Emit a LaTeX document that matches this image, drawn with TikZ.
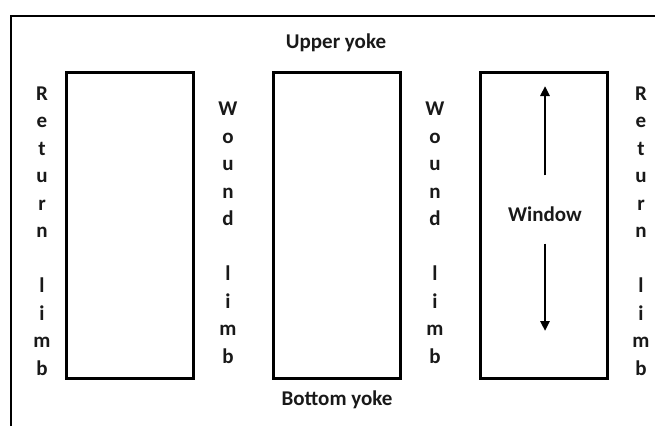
\documentclass[tikz,border=0pt]{standalone}
\usepackage{fontspec}
\setmainfont{Carlito}
\usetikzlibrary{arrows.meta}
\begin{document}
\begin{tikzpicture}[x=1pt,y=-1pt,
  lbl/.style={font=\bfseries\fontsize{21}{27.5}\selectfont, inner sep=0pt, align=center, text=black!90},
  limbbox/.style={draw, line width=3pt, minimum width=127pt, minimum height=306pt, inner sep=0pt},
  flow/.style={line width=2.5pt, -{Triangle[length=10pt,width=9pt]}}]
\useasboundingbox (0,0) rectangle (655,426);
\draw[line width=2pt] (11,426) -- (11,16) -- (656,16);
\node[limbbox] (b1) at (129.5,225) {};
\node[limbbox] (b2) at (336.5,225) {};
\node[limbbox] (b3) at (544,225) {};
\node[lbl] (uy) at (336,43) {Upper yoke};
\node[lbl] (by) at (337,400) {Bottom yoke};
\node[lbl] (rl1) at (42,231) {R\\e\\t\\u\\r\\n\\\mbox{}\\l\\i\\m\\b};
\node[lbl] (rl2) at (641,231) {R\\e\\t\\u\\r\\n\\\mbox{}\\l\\i\\m\\b};
\node[lbl] (wl1) at (228,233) {W\\o\\u\\n\\d\\\mbox{}\\l\\i\\m\\b};
\node[lbl] (wl2) at (435,233) {W\\o\\u\\n\\d\\\mbox{}\\l\\i\\m\\b};
\node[lbl] (win) at (545,214) {Window};
\coordinate (upEnd) at (545,86);
\coordinate (dnEnd) at (545,331);
\draw[flow] (win.north) ++(0,-31) coordinate (upStart) -- (upEnd);
\draw[flow] (win.south) ++(0,22) coordinate (dnStart) -- (dnEnd);
\end{tikzpicture}
\end{document}
